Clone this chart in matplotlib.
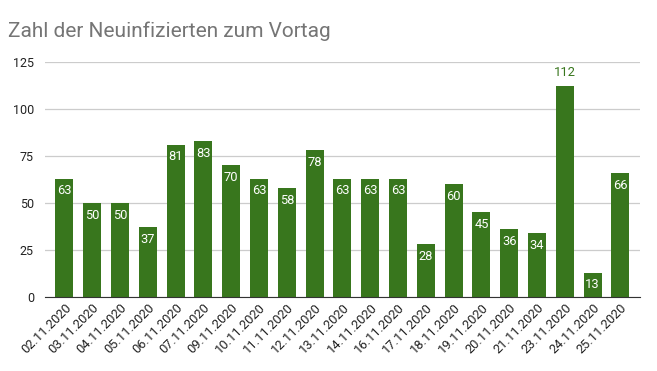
import matplotlib
matplotlib.use("Agg")
import matplotlib.pyplot as plt

dates = ["02.11.2020", "03.11.2020", "04.11.2020", "05.11.2020", "06.11.2020",
         "07.11.2020", "09.11.2020", "10.11.2020", "11.11.2020", "12.11.2020",
         "13.11.2020", "14.11.2020", "16.11.2020", "17.11.2020", "18.11.2020",
         "19.11.2020", "20.11.2020", "21.11.2020", "23.11.2020", "24.11.2020",
         "25.11.2020"]
values = [63, 50, 50, 37, 81, 83, 70, 63, 58, 78, 63, 63, 63, 28, 60, 45, 36, 34, 112, 13, 66]
yticks = [0, 25, 50, 75, 100, 125]

plt.rcParams['font.family'] = ['Roboto', 'DejaVu Sans']
green = "#38761d"

fig = plt.figure(figsize=(6.57, 3.71), dpi=100)
ax = fig.add_axes([0.0685, 0.1995, 0.9055, 0.6335])
x = list(range(len(values)))
bars = ax.bar(x, values, width=0.65, color=green, zorder=3)
ax.set_xlim(-0.7, len(values) - 0.3)
ax.set_ylim(0, 125)
ax.set_yticks(yticks)
ax.set_yticklabels([str(t) for t in yticks], fontsize=9, color="#222222")
ax.grid(axis="y", color="#cccccc", linewidth=0.9, zorder=0)
for s in ["top", "right", "left"]:
    ax.spines[s].set_visible(False)
ax.spines["bottom"].set_color("#333333")
ax.spines["bottom"].set_zorder(4)
ax.tick_params(axis="y", length=0, pad=8)
ax.tick_params(axis="x", length=0, pad=3)
ax.set_xticks(x)
ax.set_xticklabels(dates, rotation=45, ha="right", rotation_mode="anchor", fontsize=9.3, color="#222222")

for xi, v in zip(x, values):
    if v > 100:
        ax.text(xi, v + 4, str(v), ha="center", va="bottom", color=green, fontsize=9.3)
    else:
        ax.text(xi, v - 3, str(v), ha="center", va="top", color="white", fontsize=9.3, zorder=5)

fig.text(0.012, 0.915, "Zahl der Neuinfizierten zum Vortag", fontsize=15, color="#757575", ha="left", va="center")

fig.savefig("out.png", dpi=100)
